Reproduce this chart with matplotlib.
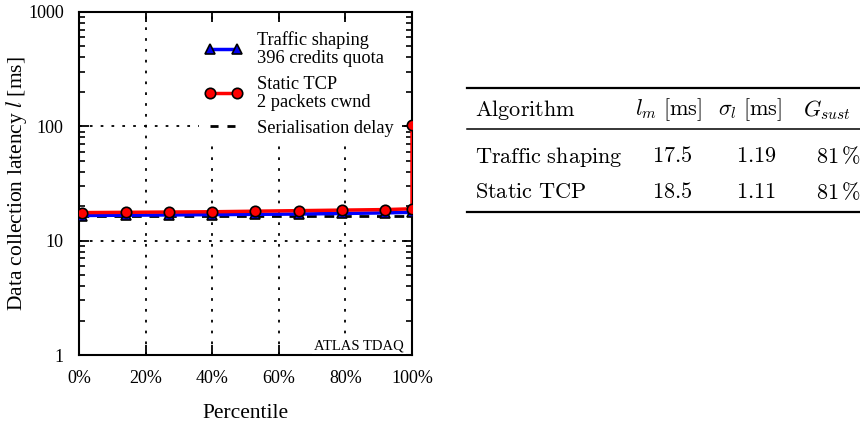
import matplotlib
matplotlib.use("Agg")
import matplotlib.pyplot as plt
from matplotlib.lines import Line2D

# latency percentiles (ms)
pct = [0, 1, 14, 27, 40, 53, 66, 79, 92, 100]
shaping = [16.6, 16.6, 16.7, 16.8, 16.9, 17.0, 17.1, 17.3, 17.5, 17.7]
tcp_pct = [0, 1, 14, 27, 40, 53, 66, 79, 92, 100, 100]
static_tcp = [17.6, 17.6, 17.7, 17.8, 17.9, 18.1, 18.3, 18.5, 18.7, 19.0, 103]
serial_delay = 16.4

xticks = [0, 20, 40, 60, 80, 100]
xticklabels = ["0%", "20%", "40%", "60%", "80%", "100%"]
yticks = [1, 10, 100, 1000]
yticklabels = ["1", "10", "100", "1000"]

# summary table
table_header = [r"$\mathrm{Algorithm}$", r"$l_m\ [\mathrm{ms}]$",
                r"$\sigma_l\ [\mathrm{ms}]$", r"$G_{sust}$"]
algorithms = [r"$\mathrm{Traffic\ shaping}$", r"$\mathrm{Static\ TCP}$"]
lat_mean = ["17.5", "18.5"]
lat_std = ["1.19", "1.11"]
g_sust = ["81", "81"]

plt.rcParams["font.family"] = ["Liberation Serif", "DejaVu Serif"]
plt.rcParams["mathtext.fontset"] = "stix"

fig = plt.figure(figsize=(8.6, 4.28), dpi=100)
W, H = 860, 428
ax = fig.add_axes([79 / W, 1 - 355 / H, 333 / W, 343 / H])

ax.set_yscale("log")
ax.set_xlim(0, 100)
ax.set_ylim(1, 1000)

grid_kw = dict(color="black", lw=1.3, linestyle=(0, (1.5, 4.5)), zorder=0.5)
for y in [10, 100]:
    ax.axhline(y, **grid_kw)
for x in [20, 40, 60, 80]:
    ax.axvline(x, **grid_kw)

ax.plot(pct, shaping, color="#0000ff", lw=2.5, marker="^", markersize=7,
        markerfacecolor="#0000ee", markeredgecolor="black", markeredgewidth=1.2,
        markevery=list(range(1, len(pct))), zorder=3,
        label="Traffic shaping\n396 credits quota")
ax.plot(tcp_pct, static_tcp, color="#ff0000", lw=2.5, marker="o", markersize=7.5,
        markerfacecolor="#ff0000", markeredgecolor="black", markeredgewidth=1.2,
        markevery=list(range(1, len(tcp_pct))), zorder=4,
        label="Static TCP\n2 packets cwnd")
ax.axhline(serial_delay, color="black", lw=2, linestyle=(0, (3.5, 2.8)), zorder=2.5,
           label="Serialisation delay")

ax.set_xticks(xticks)
ax.set_xticklabels(xticklabels)
ax.set_yticks(yticks)
ax.set_yticklabels(yticklabels)
ax.tick_params(which="both", direction="in", top=True, right=True, labelsize=13)
ax.tick_params(which="major", length=7, width=1.3)
ax.tick_params(which="minor", length=4.5, width=1.2)
ax.tick_params(axis="y", pad=11)
ax.tick_params(axis="x", pad=11)
for s in ax.spines.values():
    s.set_linewidth(1.5)

ax.set_xlabel("Percentile", fontsize=15.5, labelpad=12)
ax.set_ylabel("Data collection latency $l$ [ms]", fontsize=15.5, labelpad=-1)

leg = ax.legend(loc="upper right", bbox_to_anchor=(0.962, 0.96), borderaxespad=0,
                fontsize=13.2, frameon=True, fancybox=False, edgecolor="none",
                facecolor="white", framealpha=1, borderpad=0.3,
                handlelength=2.07, handletextpad=0.8, labelspacing=0.5,
                numpoints=2)
for t in leg.get_texts():
    t.set_linespacing(1.05)
# dashed handle: two full dashes across the handle
leg.get_lines()[2].set_linestyle((0, (2.9, 3.2)))

ax.text(0.975, 0.008, "ATLAS TDAQ", transform=ax.transAxes, ha="right", va="bottom",
        fontsize=10.5, zorder=5,
        bbox=dict(facecolor="white", edgecolor="none", pad=1.5))

# summary table, drawn in figure pixel coordinates
tax = fig.add_axes([0, 0, 1, 1])
tax.set_xlim(0, W)
tax.set_ylim(H, 0)
tax.axis("off")

tfont = dict(fontsize=16, math_fontfamily="cm", va="center", ha="left")
for y, lw in [(88, 1.6), (129, 1.1), (212, 1.6)]:
    tax.add_line(Line2D([467, W], [y, y], color="black", lw=lw))

header_x = [475, 635, 718, 803]
for x, txt in zip(header_x, table_header):
    tax.text(x, 110, txt, **tfont)

row_y = [157, 193]
for i, y in enumerate(row_y):
    tax.text(475, y, algorithms[i], **tfont)
    tax.text(652, y, r"$%s$" % lat_mean[i], **tfont)
    tax.text(736, y, r"$%s$" % lat_std[i], **tfont)
    tax.text(816, y, r"$%s\,\%%$" % g_sust[i], **tfont)

fig.savefig("out.png", dpi=100)
